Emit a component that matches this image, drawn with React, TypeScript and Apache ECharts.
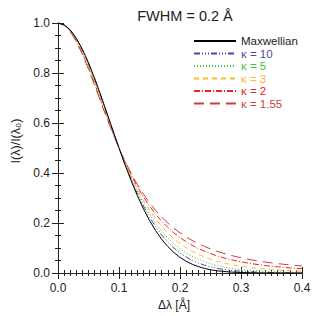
import React, { useEffect, useRef } from "react";
import * as echarts from "echarts";

const xs = [0, 0.01, 0.02, 0.03, 0.04, 0.05, 0.06, 0.07, 0.08, 0.09, 0.1, 0.11, 0.12, 0.13, 0.14, 0.15, 0.16, 0.17, 0.18, 0.19, 0.2, 0.21, 0.22, 0.23, 0.24, 0.25, 0.26, 0.27, 0.28, 0.29, 0.3, 0.31, 0.32, 0.33, 0.34, 0.35, 0.36, 0.37, 0.38, 0.39, 0.4];

const maxwellian = [1, 0.9931, 0.9727, 0.9395, 0.895, 0.8409, 0.7792, 0.712, 0.6417, 0.5704, 0.5, 0.4323, 0.3686, 0.3099, 0.257, 0.2102, 0.1696, 0.1349, 0.1058, 0.0819, 0.0625, 0.047, 0.0349, 0.0256, 0.0185, 0.0131, 0.0092, 0.0064, 0.0044, 0.0029, 0.002, 0.0013, 0.0008, 0.0005, 0.0003, 0.0002, 0.0001, 0.0001, 0, 0, 0];
const kappa10 = [1, 0.9928, 0.9717, 0.9376, 0.8921, 0.8371, 0.7748, 0.7078, 0.6382, 0.5683, 0.5, 0.4349, 0.374, 0.3183, 0.2682, 0.2238, 0.1848, 0.1519, 0.1236, 0.0999, 0.0801, 0.0639, 0.0507, 0.04, 0.0314, 0.0246, 0.0191, 0.0149, 0.0115, 0.0089, 0.0069, 0.0053, 0.0041, 0.0031, 0.0024, 0.0018, 0.0014, 0.0011, 0.0008, 0.0006, 0.0005];
const kappa5 = [1, 0.9926, 0.9708, 0.9357, 0.8891, 0.8332, 0.7705, 0.7035, 0.6348, 0.5663, 0.5, 0.4372, 0.379, 0.3276, 0.2784, 0.2362, 0.1993, 0.1674, 0.14, 0.1167, 0.0969, 0.0803, 0.0665, 0.0549, 0.0453, 0.0374, 0.0308, 0.0254, 0.021, 0.0173, 0.0143, 0.0118, 0.0098, 0.0081, 0.0067, 0.0056, 0.0047, 0.0039, 0.0032, 0.0027, 0.0023];
const kappa3 = [1, 0.9922, 0.9694, 0.933, 0.8849, 0.8279, 0.7646, 0.698, 0.6303, 0.5637, 0.5, 0.4403, 0.3853, 0.3354, 0.2908, 0.2512, 0.2166, 0.1862, 0.16, 0.1373, 0.1179, 0.1011, 0.0869, 0.0746, 0.0642, 0.0553, 0.0477, 0.0412, 0.0357, 0.0309, 0.0269, 0.0234, 0.0204, 0.0178, 0.0156, 0.0137, 0.012, 0.0106, 0.0093, 0.0082, 0.0073];
const kappa2 = [1, 0.9918, 0.9677, 0.9294, 0.8795, 0.8211, 0.7573, 0.691, 0.6248, 0.5607, 0.5, 0.4437, 0.3924, 0.346, 0.3046, 0.2679, 0.2356, 0.2072, 0.1823, 0.1606, 0.1417, 0.1252, 0.1108, 0.0982, 0.0872, 0.0776, 0.0692, 0.0619, 0.0554, 0.0497, 0.0447, 0.0403, 0.0364, 0.0329, 0.0298, 0.0271, 0.0247, 0.0225, 0.0205, 0.0188, 0.0172];
const kappa155 = [1, 0.9913, 0.966, 0.9261, 0.8747, 0.8151, 0.7509, 0.6851, 0.6203, 0.5581, 0.5, 0.4465, 0.3979, 0.3543, 0.3154, 0.2809, 0.2504, 0.2234, 0.1997, 0.1788, 0.1605, 0.1443, 0.13, 0.1174, 0.1062, 0.0964, 0.0876, 0.0798, 0.0728, 0.0666, 0.061, 0.056, 0.0515, 0.0475, 0.0438, 0.0405, 0.0376, 0.0348, 0.0324, 0.0301, 0.0281];

const seriesNames = ["Maxwellian", "κ = 10", "κ = 5", "κ = 3", "κ = 2", "κ = 1.55"];
const seriesValues = [maxwellian, kappa10, kappa5, kappa3, kappa2, kappa155];
const seriesColors = ["#000000", "#4848a8", "#3cc43c", "#ffb830", "#ee2222", "#cc3c3c"];
const seriesDash: any[] = ["solid", [6, 2, 1, 2, 1, 2, 1, 2], [1, 2], [5, 4], [6, 2, 1, 2], [10, 6]];

const titleText = "FWHM = 0.2 Å";
const xName = "Δλ [Å]";
const yName = "I(λ)/I(λ₀)";

const FONT = "'Liberation Sans', Arial, Helvetica, sans-serif";

export default function App() {
  const ref = useRef<HTMLDivElement>(null);
  useEffect(() => {
    if (!ref.current) return;
    const chart = echarts.init(ref.current, undefined, { renderer: "svg" });
    const axisCommon = {
      axisLine: { show: true, lineStyle: { color: "#222", width: 1 } },
      splitLine: { show: false },
    };
    const option: any = {
      animation: false,
      backgroundColor: "#ffffff",
      textStyle: { fontFamily: FONT },
      title: {
        text: titleText,
        left: 180,
        textAlign: "center",
        top: 3,
        textStyle: { fontSize: 14.5, fontWeight: "normal", color: "#222", fontFamily: FONT },
      },
      grid: { left: 58, top: 23, width: 244, height: 253 },
      legend: {
        orient: "vertical",
        left: 193,
        top: 35,
        itemWidth: 42,
        itemHeight: 8,
        itemGap: 0.5,
        padding: 0,
        itemStyle: { opacity: 0 },
        textStyle: { fontSize: 11.5, lineHeight: 12, fontFamily: FONT },
        data: seriesNames.map((n, i) => ({
          name: n,
          textStyle: { color: i === 0 ? "#222" : seriesColors[i] },
        })),
      },
      xAxis: [
        {
          type: "value",
          min: 0,
          max: 0.4,
          interval: 0.1,
          name: xName,
          nameLocation: "middle",
          nameGap: 26,
          nameTextStyle: { fontSize: 12, color: "#222", fontFamily: FONT, padding: [0, 12, 0, 0] },
          ...axisCommon,
          axisTick: { show: true, inside: true, length: 6, lineStyle: { color: "#222" } },
          minorTick: { show: true, splitNumber: 10, length: 3, lineStyle: { color: "#222" } },
          axisLabel: {
            show: true,
            margin: 9,
            fontSize: 12,
            color: "#222",
            fontFamily: FONT,
            formatter: (v: number) => v.toFixed(1),
          },
        },
        {
          type: "value",
          position: "top",
          min: 0,
          max: 0.4,
          interval: 0.1,
          ...axisCommon,
          axisTick: { show: true, inside: true, length: 6, lineStyle: { color: "#222" } },
          minorTick: { show: true, splitNumber: 10, length: 3, lineStyle: { color: "#222" } },
          axisLabel: { show: false },
        },
      ],
      yAxis: [
        {
          type: "value",
          min: 0,
          max: 1,
          interval: 0.2,
          name: yName,
          nameLocation: "middle",
          nameGap: 34,
          nameRotate: 90,
          nameTextStyle: { fontSize: 12.5, color: "#222", fontFamily: FONT, padding: [0, 0, 0, 14] },
          ...axisCommon,
          axisTick: { show: true, inside: true, length: 6, lineStyle: { color: "#222" } },
          minorTick: { show: true, splitNumber: 4, length: 3, lineStyle: { color: "#222" } },
          axisLabel: {
            show: true,
            margin: 8,
            fontSize: 12,
            color: "#222",
            fontFamily: FONT,
            formatter: (v: number) => v.toFixed(1),
          },
        },
        {
          type: "value",
          position: "right",
          min: 0,
          max: 1,
          interval: 0.2,
          ...axisCommon,
          axisTick: { show: true, inside: true, length: 6, lineStyle: { color: "#222" } },
          minorTick: { show: true, splitNumber: 4, length: 3, lineStyle: { color: "#222" } },
          axisLabel: { show: false },
        },
      ],
      series: seriesNames.map((n, i) => ({
        name: n,
        type: "line",
        xAxisIndex: 0,
        yAxisIndex: 0,
        data: xs.map((x, j) => [x, seriesValues[i][j]]),
        symbol: "none",
        showSymbol: false,
        smooth: false,
        clip: true,
        color: seriesColors[i],
        lineStyle: { color: seriesColors[i], width: 1, type: seriesDash[i] },
        z: 10 - i,
      })),
    };
    chart.setOption(option);
    return () => chart.dispose();
  }, []);
  return (
    <div
      ref={ref}
      style={{ position: "fixed", left: 0, top: 0, width: 316, height: 316, background: "#fff" }}
    />
  );
}
